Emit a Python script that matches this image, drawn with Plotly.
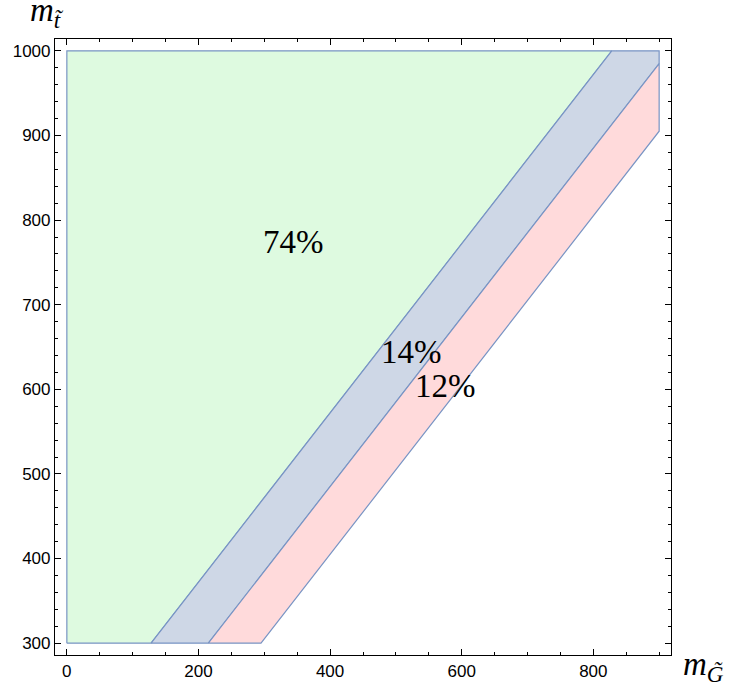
import plotly.graph_objects as go

# Data
x_range = [0, 900]          # m_G range
y_range = [300, 1000]       # m_t range
offsets = [172, 85, 5]      # boundaries: m_t - m_G = offset
region_labels = ["74%", "14%", "12%"]
label_x = [345, 523, 575]
label_y = [774, 644, 604]
x_ticks = [0, 200, 400, 600, 800]
y_ticks = [300, 400, 500, 600, 700, 800, 900, 1000]

fills = ["rgb(222,250,224)", "rgb(206,215,230)", "rgb(255,218,219)"]
edge = "rgb(120,148,196)"

x0, x1 = x_range
y0, y1 = y_range


def boundary_pts(off):
    """Points of line m_t = m_G + off clipped to box, from bottom to top/right."""
    xb = y0 - off
    xt = min(y1 - off, x1)
    yt = xt + off
    return (xb, y0), (xt, yt)


polys = []
b0a, b0b = boundary_pts(offsets[0])
polys.append([(x0, y0), (x0, y1), b0b, b0a])
for i in range(1, len(offsets)):
    pa, pb = boundary_pts(offsets[i - 1])
    qa, qb = boundary_pts(offsets[i])
    pts = [pa, pb]
    if pb[0] < x1:
        pts.append((x1, y1))
    pts += [qb, qa]
    polys.append(pts)

fig = go.Figure()
for pts, col in zip(polys, fills):
    xs = [p[0] for p in pts] + [pts[0][0]]
    ys = [p[1] for p in pts] + [pts[0][1]]
    fig.add_trace(go.Scatter(x=xs, y=ys, mode="lines", fill="toself",
                             fillcolor=col, line=dict(color=edge, width=1.2),
                             hoverinfo="skip", showlegend=False))

for t, lx, ly in zip(region_labels, label_x, label_y):
    fig.add_annotation(x=lx, y=ly, text=t, showarrow=False,
                       font=dict(family="Liberation Serif", size=33, color="black"))

# axis labels
fig.add_annotation(xref="paper", yref="paper", x=-0.044, y=1.007, xanchor="left", yanchor="bottom",
                   text="<i>m</i><sub><i>t\u0303</i></sub>", showarrow=False,
                   font=dict(family="Liberation Serif", size=33, color="black"))
fig.add_annotation(xref="paper", yref="paper", x=1.017, y=-0.018, xanchor="left", yanchor="middle",
                   text="<i>m</i><sub><i>G\u0303</i></sub>", showarrow=False,
                   font=dict(family="Liberation Serif", size=33, color="black"))

pad_x = 0.02 * (x1 - x0)
pad_y = 0.02 * (y1 - y0)
axis_common = dict(showgrid=False, zeroline=False, showline=True, linecolor="black",
                   linewidth=1.2, mirror="allticks", ticks="inside", ticklen=6,
                   automargin=False,
                   tickcolor="black", tickfont=dict(family="Liberation Sans", size=17, color="black"))
fig.update_xaxes(range=[x0 - pad_x, x1 + pad_x], tickvals=x_ticks,
                 minor=dict(dtick=50, ticks="inside", ticklen=3, tickcolor="black", showgrid=False),
                 **axis_common)
fig.update_yaxes(range=[y0 - pad_y, y1 + pad_y], tickvals=y_ticks,
                 minor=dict(dtick=20, ticks="inside", ticklen=3, tickcolor="black", showgrid=False),
                 **axis_common)

fig.update_layout(width=733, height=688, margin=dict(l=55, r=62, t=39, b=33),
                  plot_bgcolor="white", paper_bgcolor="white")
fig.write_html("out.html", config={"displayModeBar": False},
               post_script="document.body.style.margin='0px';")
